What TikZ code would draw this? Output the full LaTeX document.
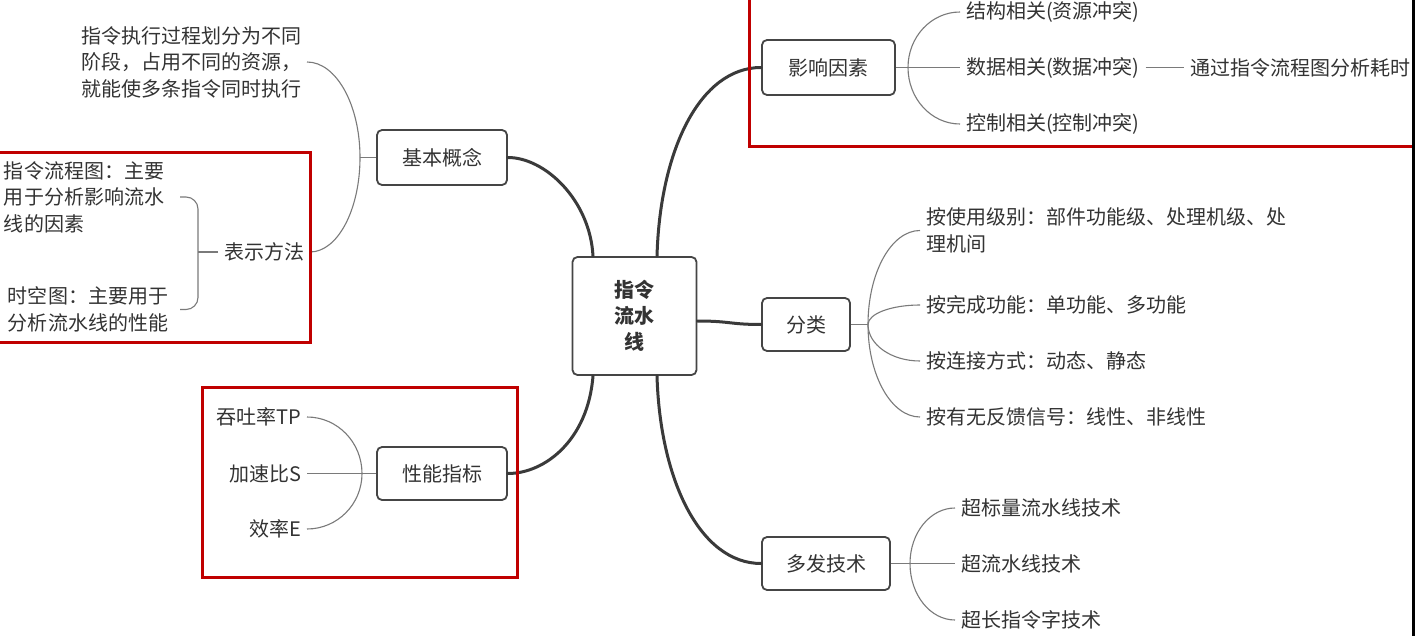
\documentclass[tikz,border=0pt]{standalone}
\usepackage{fontspec}
\usetikzlibrary{calc}
\setmainfont{Noto Sans CJK SC}
\definecolor{textgray}{HTML}{333333}
\definecolor{boxgray}{HTML}{454545}
\definecolor{linegray}{HTML}{7A7A7A}
\definecolor{thickgray}{HTML}{3A3A3A}
\definecolor{redc}{HTML}{C00000}
\newcommand\mmcurve[2]{\draw[thinline] (#1) .. controls ($(#1)!0.552!(#1 |- #2)$) and ($(#2)!0.552!(#1 |- #2)$) .. (#2);}
\begin{document}
\begin{tikzpicture}[x=1pt,y=-1pt,
  txt/.style={text=textgray, font=\fontsize{20}{26.5}\selectfont},
  mainbox/.style={txt, draw=boxgray, line width=1.8pt, rounded corners=5pt, fill=white, inner sep=0pt, align=center},
  leaf/.style={txt, inner sep=0pt, outer xsep=6pt, outer ysep=0pt, align=left},
  thinline/.style={draw=linegray, line width=1.1pt},
  thickline/.style={draw=thickgray, line width=3pt, line cap=round},
  redbox/.style={draw=redc, line width=3pt}]
\useasboundingbox (0,0) rectangle (1415,636);
\fill[white] (0,0) rectangle (1415,636);

% main boxes
\node[mainbox, minimum width=124pt, minimum height=118pt, font=\fontsize{20}{26}\selectfont\bfseries] (ctr) at (634.5,316) {指令\\流水\\线};
\node[mainbox, minimum width=130pt, minimum height=55pt] (jb) at (442,157.5) {基本概念};
\node[mainbox, minimum width=133pt, minimum height=55pt] (yx) at (828.5,67.5) {影响因素};
\node[mainbox, minimum width=88pt, minimum height=53pt] (fl) at (806,324.5) {分类};
\node[mainbox, minimum width=130pt, minimum height=53pt] (xn) at (442,473.5) {性能指标};
\node[mainbox, minimum width=128pt, minimum height=53pt] (df) at (826,563.5) {多发技术};

% left leaves
\node[leaf, anchor=east] (t1) at (307,62) {指令执行过程划分为不同\\阶段，占用不同的资源，\\就能使多条指令同时执行};
\node[leaf, anchor=east] (t2) at (310,252) {表示方法};
\node[leaf, anchor=east, outer xsep=16pt] (t21) at (180,197) {指令流程图：主要\\用于分析影响流水\\线的因素};
\node[leaf, anchor=east, outer xsep=12pt] (t22) at (180,309.5) {时空图：主要用于\\分析流水线的性能};
\node[leaf, anchor=east] (p1) at (307,417) {吞吐率TP};
\node[leaf, anchor=east] (p2) at (307,473.5) {加速比S};
\node[leaf, anchor=east] (p3) at (307,529) {效率E};

% right leaves
\node[leaf, anchor=west] (s1) at (960,12) {结构相关(资源冲突)};
\node[leaf, anchor=west] (s2) at (960,67.5) {数据相关(数据冲突)};
\node[leaf, anchor=west] (s3) at (960,124) {控制相关(控制冲突)};
\node[leaf, anchor=west] (s4) at (1184,67.5) {通过指令流程图分析耗时};
\node[leaf, anchor=west] (c1) at (920,230.5) {按使用级别：部件功能级、处理机级、处\\理机间};
\node[leaf, anchor=west] (c2) at (920,305) {按完成功能：单功能、多功能};
\node[leaf, anchor=west] (c3) at (920,361) {按连接方式：动态、静态};
\node[leaf, anchor=west] (c4) at (920,417) {按有无反馈信号：线性、非线性};
\node[leaf, anchor=west] (d1) at (955,508) {超标量流水线技术};
\node[leaf, anchor=west] (d2) at (955,563.5) {超流水线技术};
\node[leaf, anchor=west] (d3) at (955,620) {超长指令字技术};

% junctions
\coordinate (Jj) at (360,157.5);
\coordinate (Jt) at (198,252);
\coordinate (Jx) at (362,473.5);
\coordinate (Jy) at (908,67.5);
\coordinate (Jf) at (868,324.5);
\coordinate (Jd) at (910,563.5);

% thin connectors
\draw[thinline] (jb.west) -- (Jj);
\mmcurve{Jj}{t1.east}
\mmcurve{Jj}{t2.east}
\draw[thinline] (t2.west) -- (Jt);
\draw[thinline, rounded corners=12pt] (t21.east) -| (Jt) |- (t22.east);

\draw[thinline] (xn.west) -- (Jx);
\mmcurve{Jx}{p1.east}
\draw[thinline] (Jx) -- (p2.east);
\mmcurve{Jx}{p3.east}

\draw[thinline] (yx.east) -- (Jy);
\mmcurve{Jy}{s1.west}
\draw[thinline] (Jy) -- (s2.west);
\mmcurve{Jy}{s3.west}
\draw[thinline] (s2.east) -- (s4.west);

\draw[thinline] (fl.east) -- (Jf);
\mmcurve{Jf}{c1.west}
\mmcurve{Jf}{c2.west}
\mmcurve{Jf}{c3.west}
\mmcurve{Jf}{c4.west}

\draw[thinline] (df.east) -- (Jd);
\mmcurve{Jd}{d1.west}
\draw[thinline] (Jd) -- (d2.west);
\mmcurve{Jd}{d3.west}

% thick connectors
\draw[thickline] ([xshift=-41.5pt]ctr.north) .. controls (590,200) and (545,157.5) .. (jb.east);
\draw[thickline] ([xshift=22.5pt]ctr.north) .. controls (660,150) and (700,67.5) .. (yx.west);
\draw[thickline] ([yshift=-5pt]ctr.east) .. controls (730,321) and (730,324.5) .. (fl.west);
\draw[thickline] ([xshift=-41.5pt]ctr.south) .. controls (588,440) and (545,473.5) .. (xn.east);
\draw[thickline] ([xshift=22.5pt]ctr.south) .. controls (660,480) and (700,563.5) .. (df.west);

% red highlight boxes
\draw[redbox] (-5,153) -- (310,153) -- (310,342) -- (-5,342);
\draw[redbox] (749,-5) -- (749,147) -- (1412,147);
\draw[redbox] (202,387) rectangle (517,577);
% right edge
\draw[line width=3pt, black] (1413.5,-5) -- (1413.5,641);
\end{tikzpicture}
\end{document}
